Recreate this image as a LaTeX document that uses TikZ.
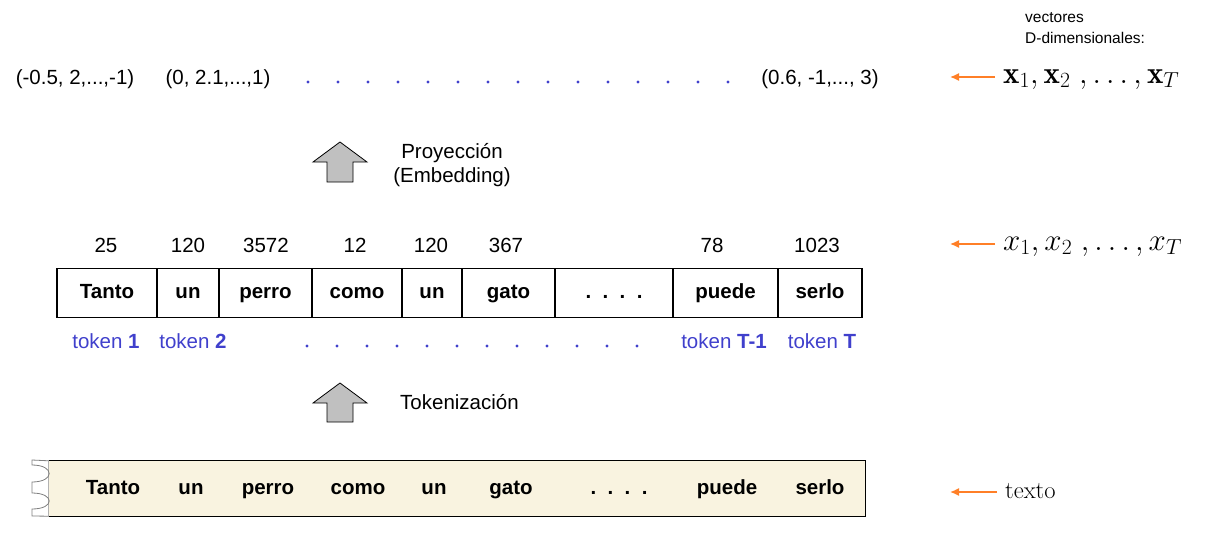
\documentclass[tikz,border=0pt]{standalone}
\usepackage{fix-cm}
\usepackage{fontspec}
\newfontfamily\tahoma{Liberation Sans}
\usetikzlibrary{arrows.meta}
\definecolor{tokblue}{RGB}{64,64,204}
\definecolor{ptrorange}{RGB}{255,127,39}
\definecolor{cream}{RGB}{249,243,224}
\definecolor{arrowgray}{RGB}{192,192,192}

\begin{document}
\begin{tikzpicture}[x=1pt, y=-1pt,
  every node/.style={inner sep=0pt},
  plain/.style={font=\tahoma\fontsize{20.5}{24}\selectfont},
  word/.style={font=\tahoma\bfseries\fontsize{20.5}{24}\selectfont},
  cell/.style={word, draw, line width=1.2pt, minimum height=49pt, text height=15pt, text depth=4pt},
  tok/.style={plain, text=tokblue},
  small/.style={font=\tahoma\fontsize{15.5}{21}\selectfont, align=left},
  mathlbl/.style={font=\fontsize{31}{36}\selectfont},
  pointer/.style={draw=ptrorange, line width=1.4pt, -{Latex[length=9pt,width=8pt]}, shorten <=8pt},
  blockarrow/.style={fill=arrowgray, draw=black, line width=0.8pt},
  curl/.style={draw=gray, line width=0.8pt}]

\useasboundingbox (0,0) rectangle (1225,554);

% vectores
\node[plain, anchor=base] (v1) at (75,84) {(-0.5, 2,...,-1)};
\node[plain, anchor=base] (v2) at (218,84) {(0, 2.1,...,1)};
\node[plain, anchor=base] (vT) at (820,84) {(0.6, -1,..., 3)};
\foreach \i in {0,...,14}
  \fill[tokblue] ({308+30*\i},82) circle (1.6);

\node[small, anchor=west] (vd) at (1025,28) {vectores\\D-dimensionales:};
\node[mathlbl, anchor=base west] (xb) at (1003,83) {$\mathbf{x}_1, \mathbf{x}_2\;, \ldots, \mathbf{x}_T$};
\coordinate (pA) at (950,77);
\draw[pointer] (xb.west |- pA) -- (pA);

% proyeccion
\filldraw[blockarrow] (340,142) -- (367,162) -- (353,162) -- (353,182) -- (327,182) -- (327,162) -- (313,162) -- cycle;
\node[plain, align=center] (proy) at (452,165) {Proyección\\(Embedding)};

% ids y tokens
\foreach \l/\r/\w [count=\i] in {57/157/Tanto, 157/219/un, 219/312/perro, 312/402/como, 402/462/un,
    462/555/gato, 555/673/{.\ \ .\ \ .\ \ .}, 673/778/puede, 778/862/serlo}{
  \pgfmathsetmacro\cw{\r-\l}
  \pgfmathsetmacro\cx{(\l+\r)/2}
  \node[cell, minimum width=\cw pt] (c\i) at (\cx,293) {\w};
}
\foreach \x/\n [count=\i] in {106/25, 188/120, 266/3572, 355/12, 431/120, 506/367, 712/78, 817/1023}
  \node[plain, anchor=base] (n\i) at (\x,252) {\n};

\node[mathlbl, anchor=base west] (xs) at (1003,250) {$x_1, x_2\;, \ldots, x_T$};
\coordinate (pX) at (950,244);
\draw[pointer] (xs.west |- pX) -- (pX);

\node[tok, anchor=base] (t1) at (106,348) {token \textbf{1}};
\node[tok, anchor=base] (t2) at (193,348) {token \textbf{2}};
\foreach \i in {0,...,11}
  \fill[tokblue] ({307+30*\i},346) circle (1.6);
\node[tok, anchor=base] (tT1) at (724,348) {token \textbf{T-1}};
\node[tok, anchor=base] (tT) at (822,348) {token \textbf{T}};

% tokenizacion
\filldraw[blockarrow] (340,383) -- (367,403) -- (353,403) -- (353,422) -- (327,422) -- (327,403) -- (313,403) -- cycle;
\node[plain, anchor=base west] (tokz) at (400,409) {Tokenización};

% texto
\node[fill=cream, minimum width=816pt, minimum height=55pt] (box) at (457,488.5) {};
\draw[line width=1.2pt] (box.north west) -- (box.north east) -- (box.south east) -- (box.south west);
\draw[gray!60, line width=0.8pt] (box.north west) -- (box.south west);
\draw[curl] (box.north west) -- (32,460) -- (32,465) .. controls (55,465) and (55,482) .. (32,482)
  -- (32,493) .. controls (55,493) and (55,509) .. (32,509) -- (32,516) -- (box.south west);
\foreach \x/\w [count=\i] in {113/Tanto, 191/un, 268/perro, 358/como, 434/un, 511/gato,
    619/{.\ \ .\ \ .\ \ .}, 727/puede, 820/serlo}
  \node[word, anchor=base] (w\i) at (\x,494) {\w};

\node[font=\fontsize{24.5}{29}\selectfont, anchor=base west] (txt) at (1005,498) {texto};
\coordinate (pT) at (950,492);
\draw[pointer] (txt.west |- pT) -- (pT);

\end{tikzpicture}
\end{document}
